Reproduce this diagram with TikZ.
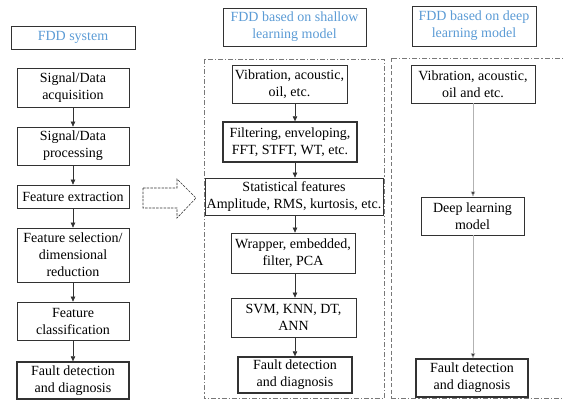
\documentclass[tikz,border=0pt]{standalone}
\usepackage{fontspec}
\newfontfamily\boxfont{Liberation Serif}
\usetikzlibrary{arrows.meta}
\definecolor{titleblue}{RGB}{91,155,213}
\definecolor{boxline}{RGB}{50,50,50}
\definecolor{frameline}{RGB}{120,120,120}
\tikzset{
  box/.style={draw=boxline, line width=0.75pt, align=center, inner sep=1pt,
    font=\boxfont\fontsize{14}{17}\selectfont},
  thickbox/.style={box, line width=1.4pt},
  titlebox/.style={box, line width=0.9pt, text=titleblue},
  flow/.style={draw=boxline, line width=0.6pt, -{Triangle[length=5pt,width=4.5pt]}},
  greyflow/.style={flow, draw=gray!60, -{Triangle[length=5pt,width=4.5pt,fill=boxline]}},
  frame/.style={draw=frameline, line width=0.7pt, dash pattern=on 5pt off 2pt on 1.2pt off 2pt},
  dashframe/.style={draw=frameline, line width=0.7pt, dash pattern=on 4pt off 2.5pt},
}
\begin{document}
\begin{tikzpicture}[x=1pt, y=-1pt]
\useasboundingbox (0,0) rectangle (564,400);

% ---- general FDD system column ----
\node[titlebox, minimum width=124pt, minimum height=23pt] (t1) at (73,37.5) {FDD system};
\node[box, minimum width=112pt, minimum height=39pt] (a1) at (73,87.5) {Signal/Data\\acquisition};
\node[box, minimum width=112pt, minimum height=38pt] (a2) at (73,146) {Signal/Data\\processing};
\node[box, minimum width=112pt, minimum height=23pt] (a3) at (73,196.5) {Feature extraction};
\node[box, minimum width=112pt, minimum height=54pt] (a4) at (73,255) {Feature selection/\\dimensional\\reduction};
\node[box, minimum width=112pt, minimum height=38pt] (a5) at (73,321) {Feature\\classification};
\node[thickbox, minimum width=112pt, minimum height=37pt] (a6) at (73,380.5) {Fault detection\\and diagnosis};
\foreach \p/\q in {a1/a2, a2/a3, a3/a4, a4/a5, a5/a6}
  \draw[flow] (\p.south) -- (\q.north);

% ---- dashed block arrow pointing to the shallow-learning column ----
\draw[draw=boxline, line width=0.6pt, dash pattern=on 2.5pt off 1.2pt]
  (143,188) -- (177,188) -- (177,179) -- (196,198) -- (177,218) -- (177,208) -- (143,208) -- cycle;

% ---- shallow learning column ----
\node[titlebox, minimum width=143pt, minimum height=38pt] (t2) at (294.5,27) {FDD based on shallow\\learning model};
\draw[frame] (204,59) rectangle (384,398.5);
\coordinate (mx) at (295,0);
\node[box, minimum width=115pt, minimum height=38pt] (b1) at (289.5,84) {Vibration, acoustic,\\oil, etc.};
\node[thickbox, minimum width=134pt, minimum height=40pt] (b2) at (290,142) {Filtering, enveloping,\\FFT, STFT, WT, etc.};
\node[box, minimum width=178pt, minimum height=37pt] (b3) at (294,196.5) {Statistical features\\Amplitude, RMS, kurtosis, etc.};
\node[box, minimum width=124pt, minimum height=40pt] (b4) at (293,253) {Wrapper, embedded,\\filter, PCA};
\node[box, minimum width=125pt, minimum height=39pt] (b5) at (293.5,317.5) {SVM, KNN, DT,\\ANN};
\node[thickbox, minimum width=114pt, minimum height=36pt] (b6) at (295,375) {Fault detection\\and diagnosis};
\foreach \p/\q in {b1/b2, b2/b3, b3/b4, b4/b5, b5/b6}
  \draw[flow] (\p.south -| mx) -- (\q.north -| mx);

% ---- deep learning column ----
\node[titlebox, minimum width=124pt, minimum height=40pt] (t3) at (474,26) {FDD based on deep\\learning model};
\draw[frame] (570,58) -- (391,58);
\draw[frame] (391,398.5) -- (570,398.5);
\draw[dashframe] (391,58) -- (391,398.5);
\coordinate (rx) at (473,0);
\node[box, minimum width=124pt, minimum height=38pt] (c1) at (473,84) {Vibration, acoustic,\\oil and etc.};
\node[box, minimum width=103pt, minimum height=38pt] (c2) at (472.5,216) {Deep learning\\model};
\node[thickbox, minimum width=112pt, minimum height=38pt] (c3) at (472,378) {Fault detection\\and diagnosis};
\draw[greyflow] (c1.south -| rx) -- (c2.north -| rx);
\draw[greyflow] (c2.south -| rx) -- (c3.north -| rx);
\end{tikzpicture}
\end{document}
